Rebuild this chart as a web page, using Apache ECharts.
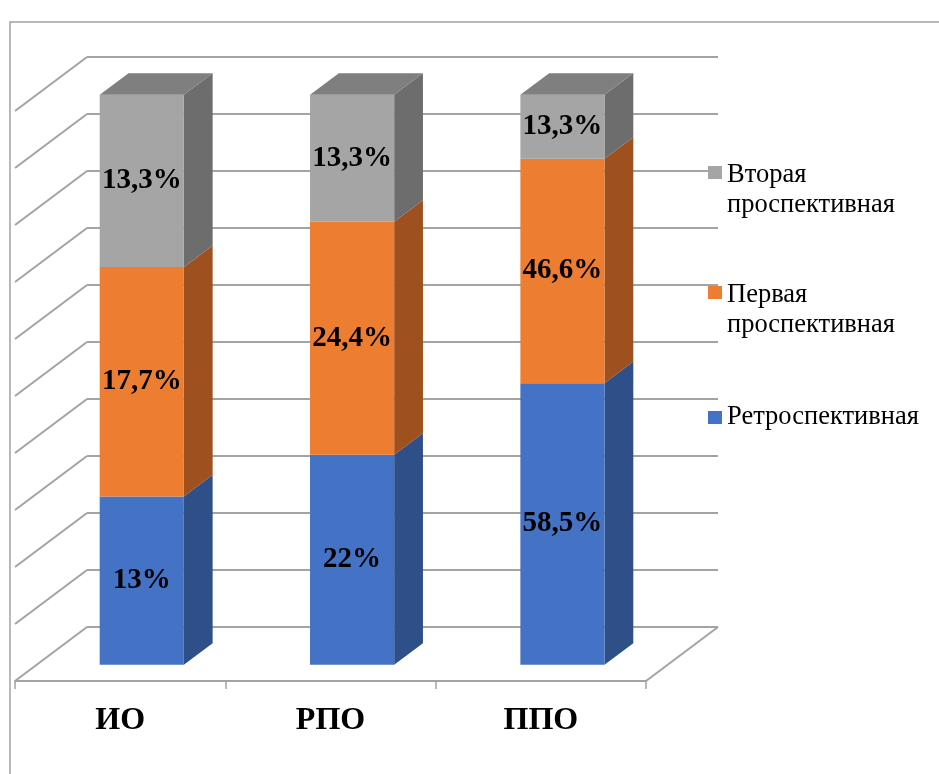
<!DOCTYPE html>
<html>
<head>
<meta charset="utf-8">
<script src="https://cdn.jsdelivr.net/npm/echarts@6/dist/echarts.min.js"></script>
<style>
  html, body { margin: 0; padding: 0; background: #fff; }
  #chart { width: 939px; height: 774px; }
</style>
</head>
<body>
<div id="chart"></div>
<script>
  'use strict';

  // data
  const categories = ['ИО', 'РПО', 'ППО'];
  const retroValues = [13, 22, 58.5];
  const firstValues = [17.7, 24.4, 46.6];
  const secondValues = [13.3, 13.3, 13.3];
  const seriesNames = ['Ретроспективная', 'Первая\nпроспективная', 'Вторая\nпроспективная'];
  const gridLevels = [0, 10, 20, 30, 40, 50, 60, 70, 80, 90, 100];

  // 3d look: offset from back wall to front edge of the floor
  const DEPTH_X = -72;
  const DEPTH_Y = 54;
  const FRONT_AT = 0.7;
  const BACK_AT = 0.3;
  const BAR_RATIO = 0.4;
  const LINE_COLOR = '#a3a3a3';
  const SERIF = "'Liberation Serif', 'Times New Roman', serif";

  const palette = [
    { front: '#4472c4', side: '#2f4f88', top: '#3a62a8' },
    { front: '#ed7d31', side: '#9e501f', top: '#c96a2a' },
    { front: '#a5a5a5', side: '#6d6d6d', top: '#7f7f7f' }
  ];

  const stacks = [retroValues, firstValues, secondValues];
  const totals = categories.map(function (c, i) {
    return stacks.reduce(function (s, arr) { return s + arr[i]; }, 0);
  });

  const segmentData = stacks.map(function (arr, si) {
    return arr.map(function (v, ci) {
      let lo = 0;
      for (let k = 0; k < si; k++) {
        lo += stacks[k][ci];
      }
      return [ci, lo / totals[ci] * 100, (lo + v) / totals[ci] * 100, v];
    });
  });

  const formatValue = function (v) {
    return String(v).replace('.', ',') + '%';
  };

  const renderSegment = function (colors) {
    return function (params, api) {
      const cat = api.value(0);
      const lo = api.value(1);
      const hi = api.value(2);
      const raw = api.value(3);
      const half = api.size([1, 0])[0] * BAR_RATIO / 2;
      const pLo = api.coord([cat, lo]);
      const pHi = api.coord([cat, hi]);
      const fx = DEPTH_X * FRONT_AT;
      const fy = DEPTH_Y * FRONT_AT;
      const dx = DEPTH_X * (BACK_AT - FRONT_AT);
      const dy = DEPTH_Y * (BACK_AT - FRONT_AT);
      const x0 = pLo[0] - half + fx;
      const x1 = pLo[0] + half + fx;
      const yLo = pLo[1] + fy;
      const yHi = pHi[1] + fy;

      const children = [
        {
          type: 'polygon',
          shape: { points: [[x1, yLo], [x1 + dx, yLo + dy], [x1 + dx, yHi + dy], [x1, yHi]] },
          style: { fill: colors.side }
        },
        {
          type: 'rect',
          shape: { x: x0, y: yHi, width: x1 - x0, height: yLo - yHi },
          style: { fill: colors.front }
        }
      ];
      if (hi >= 99.999) {
        children.push({
          type: 'polygon',
          shape: { points: [[x0, yHi], [x1, yHi], [x1 + dx, yHi + dy], [x0 + dx, yHi + dy]] },
          style: { fill: colors.top }
        });
      }
      children.push({
        type: 'text',
        x: (x0 + x1) / 2,
        y: (yLo + yHi) / 2,
        style: {
          text: formatValue(raw),
          fill: '#000',
          fontSize: 29,
          fontWeight: 'bold',
          fontFamily: SERIF,
          align: 'center',
          verticalAlign: 'middle'
        }
      });
      return { type: 'group', children: children };
    };
  };

  const renderWall = function (params, api) {
    const v = api.value(1);
    const band = api.size([1, 0])[0];
    const p = api.coord([0, v]);
    const left = p[0] - band / 2;
    const style = { stroke: LINE_COLOR, lineWidth: 2 };
    const children = [{
      type: 'line',
      shape: { x1: left, y1: p[1], x2: left + DEPTH_X, y2: p[1] + DEPTH_Y },
      style: style
    }];
    if (v === 0) {
      const right = api.coord([categories.length - 1, 0])[0] + band / 2;
      children.push({
        type: 'line',
        shape: { x1: right, y1: p[1], x2: right + DEPTH_X, y2: p[1] + DEPTH_Y },
        style: style
      });
    }
    return { type: 'group', children: children };
  };

  const chart = echarts.init(document.getElementById('chart'), null, { renderer: 'canvas' });

  const series = [{
    type: 'custom',
    name: 'wall',
    xAxisIndex: 0,
    yAxisIndex: 0,
    silent: true,
    z: 1,
    data: gridLevels.map(function (v) { return [0, v]; }),
    encode: { x: 0, y: 1 },
    renderItem: renderWall
  }];

  segmentData.forEach(function (data, si) {
    series.push({
      type: 'custom',
      name: seriesNames[si],
      xAxisIndex: 0,
      yAxisIndex: 0,
      silent: true,
      z: 3,
      itemStyle: { color: palette[si].front },
      data: data,
      encode: { x: 0, y: [1, 2] },
      renderItem: renderSegment(palette[si])
    });
  });

  // legend: the square sits next to the first line of a two-line name
  const legendRich = {
    pad: { fontFamily: SERIF, fontSize: 26.5, lineHeight: 36, color: '#000' },
    t: { fontFamily: SERIF, fontSize: 26.5, lineHeight: 30, color: '#000' }
  };

  const makeLegend = function (name, top) {
    return {
      show: true,
      left: 708,
      top: top,
      padding: 0,
      orient: 'vertical',
      itemWidth: 14,
      itemHeight: 13,
      icon: 'rect',
      selectedMode: false,
      data: [name],
      formatter: function (n) {
        const lines = n.split('\n');
        if (lines.length === 1) {
          return '{t|' + n + '}';
        }
        return '{pad|\u00a0}\n' + lines.map(function (l) { return '{t|' + l + '}'; }).join('\n');
      },
      textStyle: { fontFamily: SERIF, fontSize: 26.5, color: '#000', rich: legendRich }
    };
  };

  chart.setOption({
    animation: false,
    backgroundColor: '#fff',
    graphic: [{
      type: 'rect',
      shape: { x: 10, y: 22, width: 1000, height: 1000 },
      style: { fill: 'none', stroke: LINE_COLOR, lineWidth: 1.5 },
      silent: true,
      z: -10
    }],
    legend: [
      makeLegend(seriesNames[2], 129),
      makeLegend(seriesNames[1], 249),
      makeLegend(seriesNames[0], 404)
    ],
    grid: [
      { left: 87, right: 221, top: 57, bottom: 147, containLabel: false },
      { left: 15, right: 293, top: 111, bottom: 93, containLabel: false }
    ],
    xAxis: [
      {
        type: 'category',
        gridIndex: 0,
        data: categories,
        axisLine: { show: false },
        axisTick: { show: false },
        axisLabel: { show: false },
        splitLine: { show: false }
      },
      {
        type: 'category',
        gridIndex: 1,
        data: categories,
        axisLine: { show: true, lineStyle: { color: LINE_COLOR, width: 2 } },
        axisTick: { show: true, length: 8, lineStyle: { color: LINE_COLOR, width: 1.5 } },
        axisLabel: {
          show: true,
          margin: 24,
          color: '#000',
          fontSize: 32,
          fontWeight: 'bold',
          fontFamily: SERIF
        },
        splitLine: { show: false }
      }
    ],
    yAxis: [
      {
        type: 'value',
        gridIndex: 0,
        min: 0,
        max: 100,
        interval: 10,
        axisLine: { show: false },
        axisTick: { show: false },
        axisLabel: { show: false },
        splitLine: { show: true, lineStyle: { color: LINE_COLOR, width: 2 } }
      },
      {
        type: 'value',
        gridIndex: 1,
        min: 0,
        max: 100,
        show: false
      }
    ],
    series: series
  });
</script>
</body>
</html>
